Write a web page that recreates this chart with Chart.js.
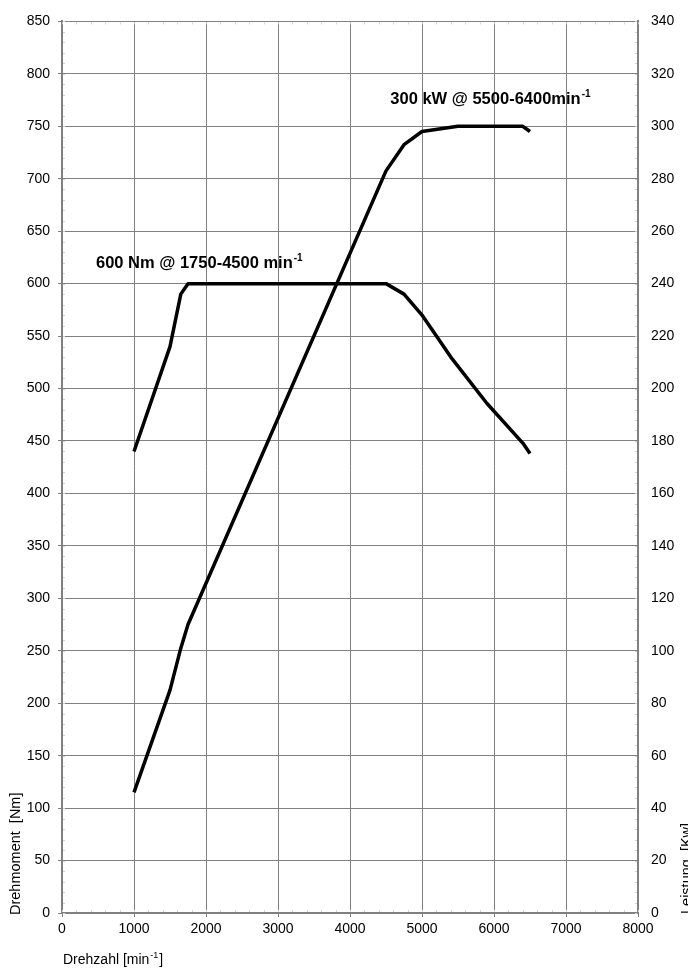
<!DOCTYPE html>
<html lang="de">
<head>
    <meta charset="UTF-8">
    <title>Drehmoment / Leistung</title>
    <script src="https://cdn.jsdelivr.net/npm/chart.js@4.4.0/dist/chart.umd.min.js"></script>
    <style>
        html, body { margin: 0; padding: 0; background: #fff; }
        #wrap { width: 688px; height: 970px; }
    </style>
</head>
<body>
<div id="wrap"><canvas id="chart" width="688" height="970"></canvas></div>
<script>
// torque curve (Nm over rpm)
const torqueRpm = [1000, 1500, 1650, 1750, 4500, 4750, 5000, 5400, 5900, 6400, 6500];
const torqueNm  = [440, 540, 590, 600, 600, 590, 570, 530, 486, 448, 438];

// power curve (kW over rpm)
const powerRpm = [1000, 1500, 1650, 1750, 4500, 4750, 5000, 5500, 6400, 6500];
const powerKw  = [46, 85, 101, 110, 283, 293, 298, 300, 300, 298];

// tick labels
const rpmTicks = [0, 1000, 2000, 3000, 4000, 5000, 6000, 7000, 8000];
const nmTicks = [0, 50, 100, 150, 200, 250, 300, 350, 400, 450, 500, 550, 600, 650, 700, 750, 800, 850];
const kwTicks = [0, 20, 40, 60, 80, 100, 120, 140, 160, 180, 200, 220, 240, 260, 280, 300, 320, 340];

const FONT = "'Liberation Sans', Arial, sans-serif";
const GRID = '#808080';

function toPoints(xs, ys) {
    return xs.map((x, i) => ({ x: x, y: ys[i] }));
}

function useTicks(values) {
    return function (scale) {
        scale.ticks = values.map(v => ({ value: v }));
    };
}

const plain = v => String(v);

// text labels, superscripts and minor ticks drawn on top
const extras = {
    id: 'extras',
    afterDraw(chart) {
        const ctx = chart.ctx;
        const a = chart.chartArea;
        const x = chart.scales.x, yl = chart.scales.y, yr = chart.scales.y1;
        ctx.save();

        // faint minor ticks inside the frame
        ctx.strokeStyle = '#d2d2d2';
        ctx.lineWidth = 1;
        ctx.beginPath();
        for (let v = 0; v <= 8000; v += 200) {
            const px = Math.round(x.getPixelForValue(v)) + 0.5;
            ctx.moveTo(px, a.bottom - 1); ctx.lineTo(px, a.bottom - 3);
            ctx.moveTo(px, a.top + 1); ctx.lineTo(px, a.top + 3);
        }
        for (let v = 0; v <= 850; v += 10) {
            const py = Math.round(yl.getPixelForValue(v)) + 0.5;
            ctx.moveTo(a.left + 1, py); ctx.lineTo(a.left + 3, py);
        }
        for (let v = 0; v <= 340; v += 4) {
            const py = Math.round(yr.getPixelForValue(v)) + 0.5;
            ctx.moveTo(a.right - 1, py); ctx.lineTo(a.right - 3, py);
        }
        ctx.stroke();

        ctx.fillStyle = '#000';
        ctx.textBaseline = 'alphabetic';
        ctx.textAlign = 'left';

        // text with a small raised "-1", returns the total width
        function supText(main, sup, px, py, size, weight) {
            ctx.font = weight + ' ' + size + 'px ' + FONT;
            ctx.fillText(main, px, py);
            const w = ctx.measureText(main).width;
            const s = Math.round(size * 0.62);
            ctx.font = weight + ' ' + s + 'px ' + FONT;
            ctx.fillText(sup, px + w + 1, py - size * 0.42);
            return w + 1 + ctx.measureText(sup).width;
        }

        // curve annotations
        supText('600 Nm @ 1750-4500 min', '-1',
            x.getPixelForValue(472), yl.getPixelForValue(615), 16.5, 'bold');
        supText('300 kW @ 5500-6400min', '-1',
            x.getPixelForValue(4560), yl.getPixelForValue(771), 16.5, 'bold');

        // axis titles
        const w1 = supText('Drehzahl [min', '-1', a.left + 1, 964, 14, 'normal');
        ctx.font = 'normal 14px ' + FONT;
        ctx.fillText(']', a.left + 1 + w1 + 1, 964);

        ctx.save();
        ctx.translate(19.5, a.bottom + 2);
        ctx.rotate(-Math.PI / 2);
        ctx.font = 'normal 14.5px ' + FONT;
        ctx.fillText('Drehmoment  [Nm]', 0, 0);
        ctx.restore();

        ctx.save();
        ctx.translate(691, a.bottom + 1);
        ctx.rotate(-Math.PI / 2);
        ctx.font = 'normal 14.5px ' + FONT;
        ctx.fillText('Leistung  [Kw]', 0, 0);
        ctx.restore();

        ctx.restore();
    }
};

new Chart(document.getElementById('chart').getContext('2d'), {
    type: 'line',
    data: {
        datasets: [
            {
                label: 'Drehmoment',
                data: toPoints(torqueRpm, torqueNm),
                yAxisID: 'y',
                borderColor: '#000',
                borderWidth: 3.5,
                pointRadius: 0,
                tension: 0,
                borderJoinStyle: 'round',
                fill: false
            },
            {
                label: 'Leistung',
                data: toPoints(powerRpm, powerKw),
                yAxisID: 'y1',
                borderColor: '#000',
                borderWidth: 3.5,
                pointRadius: 0,
                tension: 0,
                borderJoinStyle: 'round',
                fill: false
            }
        ]
    },
    options: {
        responsive: false,
        animation: false,
        devicePixelRatio: 1,
        layout: { padding: { top: 19, left: 0, right: 0, bottom: 0 } },
        plugins: {
            legend: { display: false },
            tooltip: { enabled: false }
        },
        scales: {
            x: {
                type: 'linear',
                min: 0,
                max: 8000,
                afterBuildTicks: useTicks(rpmTicks),
                afterFit(scale) { scale.height = 57; },
                grid: { color: GRID, lineWidth: 1, tickLength: 4, tickColor: GRID },
                border: { display: true, color: GRID, width: 2 },
                ticks: {
                    color: '#000',
                    font: { family: FONT, size: 14 },
                    padding: 4,
                    maxRotation: 0,
                    callback: plain
                }
            },
            y: {
                type: 'linear',
                position: 'left',
                min: 0,
                max: 850,
                afterBuildTicks: useTicks(nmTicks),
                afterFit(scale) { scale.width = 62; },
                grid: { color: GRID, lineWidth: 1, tickLength: 4, tickColor: GRID },
                border: { display: true, color: GRID, width: 2 },
                ticks: {
                    color: '#000',
                    font: { family: FONT, size: 14 },
                    padding: 8,
                    callback: plain
                }
            },
            y1: {
                type: 'linear',
                position: 'right',
                min: 0,
                max: 340,
                afterBuildTicks: useTicks(kwTicks),
                afterFit(scale) { scale.width = 50; },
                grid: { drawOnChartArea: false, drawTicks: false },
                border: { display: true, color: GRID, width: 2 },
                ticks: {
                    color: '#000',
                    font: { family: FONT, size: 14 },
                    padding: 13,
                    callback: plain
                }
            }
        }
    },
    plugins: [extras]
});
</script>
</body>
</html>
